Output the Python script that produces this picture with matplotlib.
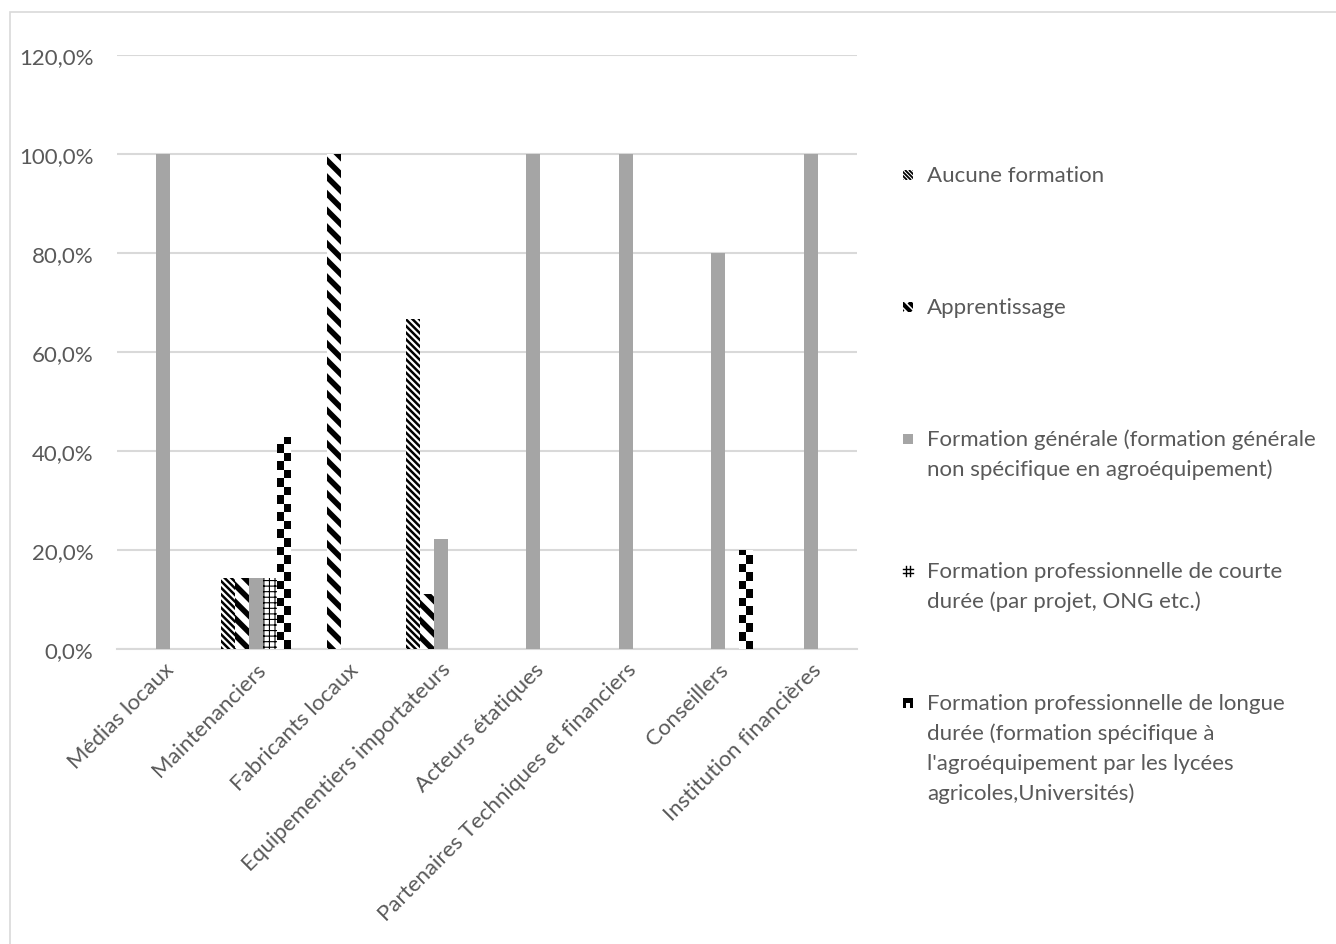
import numpy as np
import matplotlib
matplotlib.use("Agg")
import matplotlib.pyplot as plt
from matplotlib.patches import Rectangle
from matplotlib.lines import Line2D

plt.rcParams['font.family'] = ['Lato', 'DejaVu Sans']

categories = ["Médias locaux", "Maintenanciers", "Fabricants locaux",
              "Equipementiers importateurs", "Acteurs étatiques",
              "Partenaires Techniques et financiers", "Conseillers",
              "Institution financières"]

series_names = [
    "Aucune formation",
    "Apprentissage",
    "Formation générale (formation générale\nnon spécifique en agroéquipement)",
    "Formation professionnelle de courte\ndurée (par projet, ONG etc.)",
    "Formation professionnelle de longue\ndurée (formation spécifique à\nl'agroéquipement par les lycées\nagricoles,Universités)",
]

aucune = [0, 14.3, 0, 66.7, 0, 0, 0, 0]
apprentissage = [0, 14.3, 100, 11.1, 0, 0, 0, 0]
generale = [100, 14.3, 0, 22.2, 100, 100, 80, 100]
courte = [0, 14.3, 0, 0, 0, 0, 0, 0]
longue = [0, 42.9, 0, 0, 0, 0, 20, 0]

yticks = [0, 20, 40, 60, 80, 100, 120]

W, H = 1336, 945
fig = plt.figure(figsize=(W / 100, H / 100), dpi=100)
fig.patch.set_facecolor("white")

# outer chart border
fig.add_artist(Rectangle((10 / W, -0.01), 1.02, (H - 13) / H + 0.01,
                         transform=fig.transFigure, fill=False,
                         edgecolor="#D9D9D9", linewidth=1.2))

ax = fig.add_axes([117 / W, (H - 650) / H, (857 - 117) / W, (650 - 56) / H])
ax.set_facecolor("white")

text_color = "#595959"
grid_color = "#D9D9D9"
fs = 16

x = np.arange(len(categories))
bw = 0.151

styles = [
    dict(facecolor="white", hatch="\\" * 5),
    dict(facecolor="white", hatch="\\" * 2),
    dict(facecolor="#A5A5A5", hatch=None),
    dict(facecolor="white", hatch="+++"),
    dict(facecolor="white", hatch=None),
]
hatch_lw = [1.8, 4.0, 1.0, 0.8, 1.0]

all_series = [aucune, apprentissage, generale, courte, longue]
containers = []
for i, (vals, st) in enumerate(zip(all_series, styles)):
    bars = ax.bar(x + (i - 2) * bw, vals, width=bw, facecolor=st["facecolor"],
                  hatch=st["hatch"], linewidth=0, edgecolor="black", zorder=3)
    for b in bars:
        b._hatch_linewidth = hatch_lw[i]
    containers.append(bars)

# checkerboard fill for the long-duration series
cell_y = 1.72
for b, v in zip(containers[4], longue):
    if v <= 0:
        continue
    nrows = int(np.ceil(v / cell_y))
    board = (np.indices((nrows, 2)).sum(axis=0) % 2).astype(float)
    x0 = b.get_x()
    im = ax.imshow(board, cmap="gray_r", interpolation="nearest",
                   extent=[x0, x0 + b.get_width(), 0, nrows * cell_y],
                   origin="lower", aspect="auto", zorder=3.5, vmin=0, vmax=1)
    im.set_clip_path(b)

ax.set_xlim(-0.5, len(categories) - 0.5)
ax.set_ylim(0, 120)
ax.set_yticks(yticks)
ax.set_yticklabels([f"{t:.1f}%".replace(".", ",") for t in yticks])
ax.set_xticks(x)
ax.set_xticklabels(categories, rotation=45, ha="right", rotation_mode="anchor")
ax.tick_params(axis="both", length=0, colors=text_color, labelsize=fs)
ax.tick_params(axis="y", pad=17)
ax.tick_params(axis="x", pad=7)
ax.grid(axis="y", color=grid_color, linewidth=1.5, zorder=0)
ax.set_axisbelow(True)
for s in ["top", "right", "left"]:
    ax.spines[s].set_visible(False)
ax.spines["bottom"].set_color(grid_color)
ax.spines["bottom"].set_linewidth(1.5)


def fx(px):
    return px / W


def fy(py):
    return (H - py) / H


# legend, drawn entry by entry
leg_y = [176, 308, 440, 572, 704]
line_gap = 30
mx, ms = 903, 10
for i, (name, st) in enumerate(zip(series_names, styles)):
    yc = leg_y[i]
    top, bot = yc - ms / 2, yc + ms / 2
    box = Rectangle((fx(mx), fy(bot)), ms / W, ms / H, transform=fig.transFigure,
                    facecolor=st["facecolor"], linewidth=0)
    fig.add_artist(box)
    if i in (0, 1):
        step, lw = (4, 1.3) if i == 0 else (8, 3.0)
        for off in np.arange(-ms, 2 * ms, step):
            ln = Line2D([fx(mx + off), fx(mx + off + ms)], [fy(top), fy(bot)],
                        transform=fig.transFigure, color="black", linewidth=lw,
                        solid_capstyle="butt")
            ln.set_clip_path(box)
            fig.add_artist(ln)
    elif i == 3:
        for p in (3, 7):
            fig.add_artist(Line2D([fx(mx + p)] * 2, [fy(top), fy(bot)],
                                  transform=fig.transFigure, color="black", linewidth=1.0))
            fig.add_artist(Line2D([fx(mx), fx(mx + ms)], [fy(top + p)] * 2,
                                  transform=fig.transFigure, color="black", linewidth=1.0))
    elif i == 4:
        c = ms / 2
        fig.add_artist(Rectangle((fx(mx), fy(yc)), ms / W, c / H,
                                 transform=fig.transFigure, facecolor="black", linewidth=0))
        for dx in (0, ms - 3):
            fig.add_artist(Rectangle((fx(mx + dx), fy(bot)), 3 / W, c / H,
                                     transform=fig.transFigure, facecolor="black", linewidth=0))
    for k, line in enumerate(name.split("\n")):
        fig.text(fx(927), fy(yc + k * line_gap), line, fontsize=fs,
                 color=text_color, ha="left", va="center")

fig.savefig("out.png", dpi=100, facecolor="white")
